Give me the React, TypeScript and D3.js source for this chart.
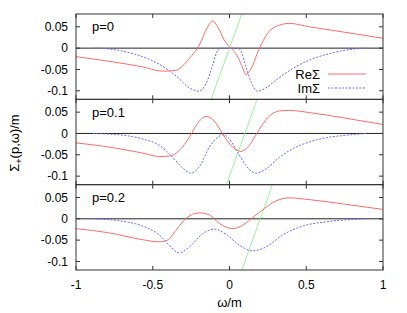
import React from "react";
import * as d3 from "d3";

// ---- data ----
const panelLabels = ["p=0", "p=0.1", "p=0.2"];
const xTicks = [-1, -0.5, 0, 0.5, 1];
const yTicks = [0.05, 0, -0.05, -0.1];

const re0: [number, number][] = [
  [-1, -0.02], [-0.783, -0.031], [-0.566, -0.044], [-0.435, -0.054], [-0.349, -0.052],
  [-0.262, -0.024], [-0.197, 0.007], [-0.142, 0.05], [-0.11, 0.064], [-0.077, 0.05],
  [-0.034, 0.019], [0, 0.003], [0.042, -0.013], [0.079, -0.04], [0.107, -0.062],
  [0.14, -0.048], [0.194, -0.001], [0.249, 0.035], [0.325, 0.054], [0.39, 0.058],
  [0.52, 0.05], [0.737, 0.038], [1, 0.023],
];
const im0: [number, number][] = [
  [-0.89, 0], [-0.783, -0.002], [-0.674, -0.009], [-0.566, -0.02], [-0.457, -0.038],
  [-0.349, -0.065], [-0.262, -0.093], [-0.201, -0.101], [-0.153, -0.083], [-0.11, -0.04],
  [-0.077, -0.005], [-0.055, 0], [0, 0], [0.053, 0], [0.075, -0.007], [0.107, -0.044],
  [0.14, -0.079], [0.183, -0.101], [0.238, -0.093], [0.303, -0.075], [0.411, -0.048],
  [0.52, -0.028], [0.629, -0.015], [0.737, -0.006], [0.846, -0.001], [0.89, 0],
];
const re1: [number, number][] = [
  [-1, -0.022], [-0.783, -0.032], [-0.566, -0.046], [-0.457, -0.054], [-0.392, -0.053],
  [-0.327, -0.04], [-0.262, -0.009], [-0.207, 0.024], [-0.153, 0.04], [-0.099, 0.029],
  [-0.045, -0.001], [0.01, -0.028], [0.075, -0.042], [0.129, -0.028], [0.183, 0.003],
  [0.249, 0.037], [0.325, 0.053], [0.39, 0.054], [0.52, 0.049], [0.737, 0.037], [1, 0.021],
];
const im1: [number, number][] = [
  [-0.89, 0], [-0.674, -0.005], [-0.566, -0.013], [-0.457, -0.028], [-0.37, -0.056],
  [-0.305, -0.081], [-0.251, -0.093], [-0.197, -0.078], [-0.131, -0.032], [-0.077, -0.009],
  [-0.045, -0.003], [0, -0.013], [0.053, -0.044], [0.107, -0.075], [0.173, -0.093],
  [0.238, -0.083], [0.325, -0.056], [0.411, -0.036], [0.52, -0.02], [0.629, -0.01],
  [0.737, -0.005], [0.89, 0],
];
const re2: [number, number][] = [
  [-1, -0.023], [-0.783, -0.033], [-0.566, -0.049], [-0.457, -0.054], [-0.403, -0.05],
  [-0.349, -0.027], [-0.283, 0.001], [-0.197, 0.014], [-0.131, 0.009], [-0.066, -0.011],
  [0.021, -0.023], [0.086, -0.015], [0.151, 0.003], [0.227, 0.024], [0.303, 0.042],
  [0.39, 0.049], [0.52, 0.045], [0.737, 0.035], [1, 0.022],
];
const im2: [number, number][] = [
  [-0.89, 0], [-0.674, -0.007], [-0.566, -0.017], [-0.457, -0.038], [-0.392, -0.062],
  [-0.327, -0.08], [-0.262, -0.066], [-0.175, -0.035], [-0.099, -0.024], [-0.023, -0.036],
  [0.064, -0.062], [0.151, -0.075], [0.238, -0.066], [0.346, -0.038], [0.477, -0.017],
  [0.629, -0.007], [0.78, -0.002], [0.89, 0],
];
const lightLine0: [number, number][] = [[-0.12, -0.12], [0.08, 0.08]];
const lightLine1: [number, number][] = [[-0.02, -0.12], [0.18, 0.08]];
const lightLine2: [number, number][] = [[0.08, -0.12], [0.28, 0.08]];

const reSeries = [re0, re1, re2];
const imSeries = [im0, im1, im2];
const lightSeries = [lightLine0, lightLine1, lightLine2];

// ---- layout ----
const W = 407, H = 313;
const left = 76, right = 383;
const panelTops = [14, 99.33, 184.67];
const panelH = 85.33;
const RED = "#ff6a6a";
const BLUE = "#6a6aff";
const GREEN = "#9cf09c";
const FONT = "'Liberation Sans', Arial, sans-serif";

export default function App() {
  const x = d3.scaleLinear().domain([-1, 1]).range([left, right]);
  return (
    <svg width={W} height={H} style={{ position: "absolute", left: 0, top: 0, background: "#fff" }}
      fontFamily={FONT}>
      <defs>
        {panelTops.map((t, i) => (
          <clipPath id={`clip${i}`} key={i}>
            <rect x={left} y={t} width={right - left} height={panelH} />
          </clipPath>
        ))}
      </defs>
      {panelTops.map((top, i) => {
        const y = d3.scaleLinear().domain([-0.12, 0.08]).range([top + panelH, top]);
        const line = d3.line<[number, number]>().x(d => x(d[0])).y(d => y(d[1])).curve(d3.curveMonotoneX);
        const straight = d3.line<[number, number]>().x(d => x(d[0])).y(d => y(d[1]));
        const bottom = top + panelH;
        return (
          <g key={i}>
            <line x1={left} x2={right} y1={y(0)} y2={y(0)} stroke="#222" strokeWidth={1} />
            <g clipPath={`url(#clip${i})`}>
              <path d={straight(lightSeries[i]) || ""} fill="none" stroke={GREEN} strokeWidth={1} />
              <path d={line(imSeries[i]) || ""} fill="none" stroke={BLUE} strokeWidth={1} strokeDasharray="2,1.5" />
              <path d={line(reSeries[i]) || ""} fill="none" stroke={RED} strokeWidth={1} />
            </g>
            <rect x={left} y={top} width={right - left} height={panelH} fill="none" stroke="#333" strokeWidth={1} />
            {xTicks.map(v => (
              <g key={v}>
                <line x1={x(v)} x2={x(v)} y1={top} y2={top + 4} stroke="#333" />
                <line x1={x(v)} x2={x(v)} y1={bottom} y2={bottom - 4} stroke="#333" />
              </g>
            ))}
            {yTicks.map(v => (
              <g key={v}>
                <line x1={left} x2={left + 4} y1={y(v)} y2={y(v)} stroke="#333" />
                <line x1={right} x2={right - 4} y1={y(v)} y2={y(v)} stroke="#333" />
                <text x={68} y={y(v)} dy="0.35em" textAnchor="end" fontSize={12}>{v}</text>
              </g>
            ))}
            <text x={92} y={y(0.05) + 4.5} fontSize={13}>{panelLabels[i]}</text>
          </g>
        );
      })}
      <text x={320} y={74} dy="0.35em" textAnchor="end" fontSize={13}>ReΣ</text>
      <line x1={328} x2={366} y1={74} y2={74} stroke={RED} />
      <text x={320} y={88} dy="0.35em" textAnchor="end" fontSize={13}>ImΣ</text>
      <line x1={328} x2={366} y1={88} y2={88} stroke={BLUE} strokeDasharray="2,1.5" />
      {xTicks.map(v => (
        <text key={v} x={x(v)} y={289} textAnchor="middle" fontSize={12}>{v}</text>
      ))}
      <text x={x(0)} y={307} textAnchor="middle" fontSize={13}>ω/m</text>
      <text transform="translate(19,143) rotate(-90)" textAnchor="middle" fontSize={13}>
        Σ<tspan fontSize={9} dy={3}>+</tspan><tspan dy={-3}>(p,ω)/m</tspan>
      </text>
    </svg>
  );
}
